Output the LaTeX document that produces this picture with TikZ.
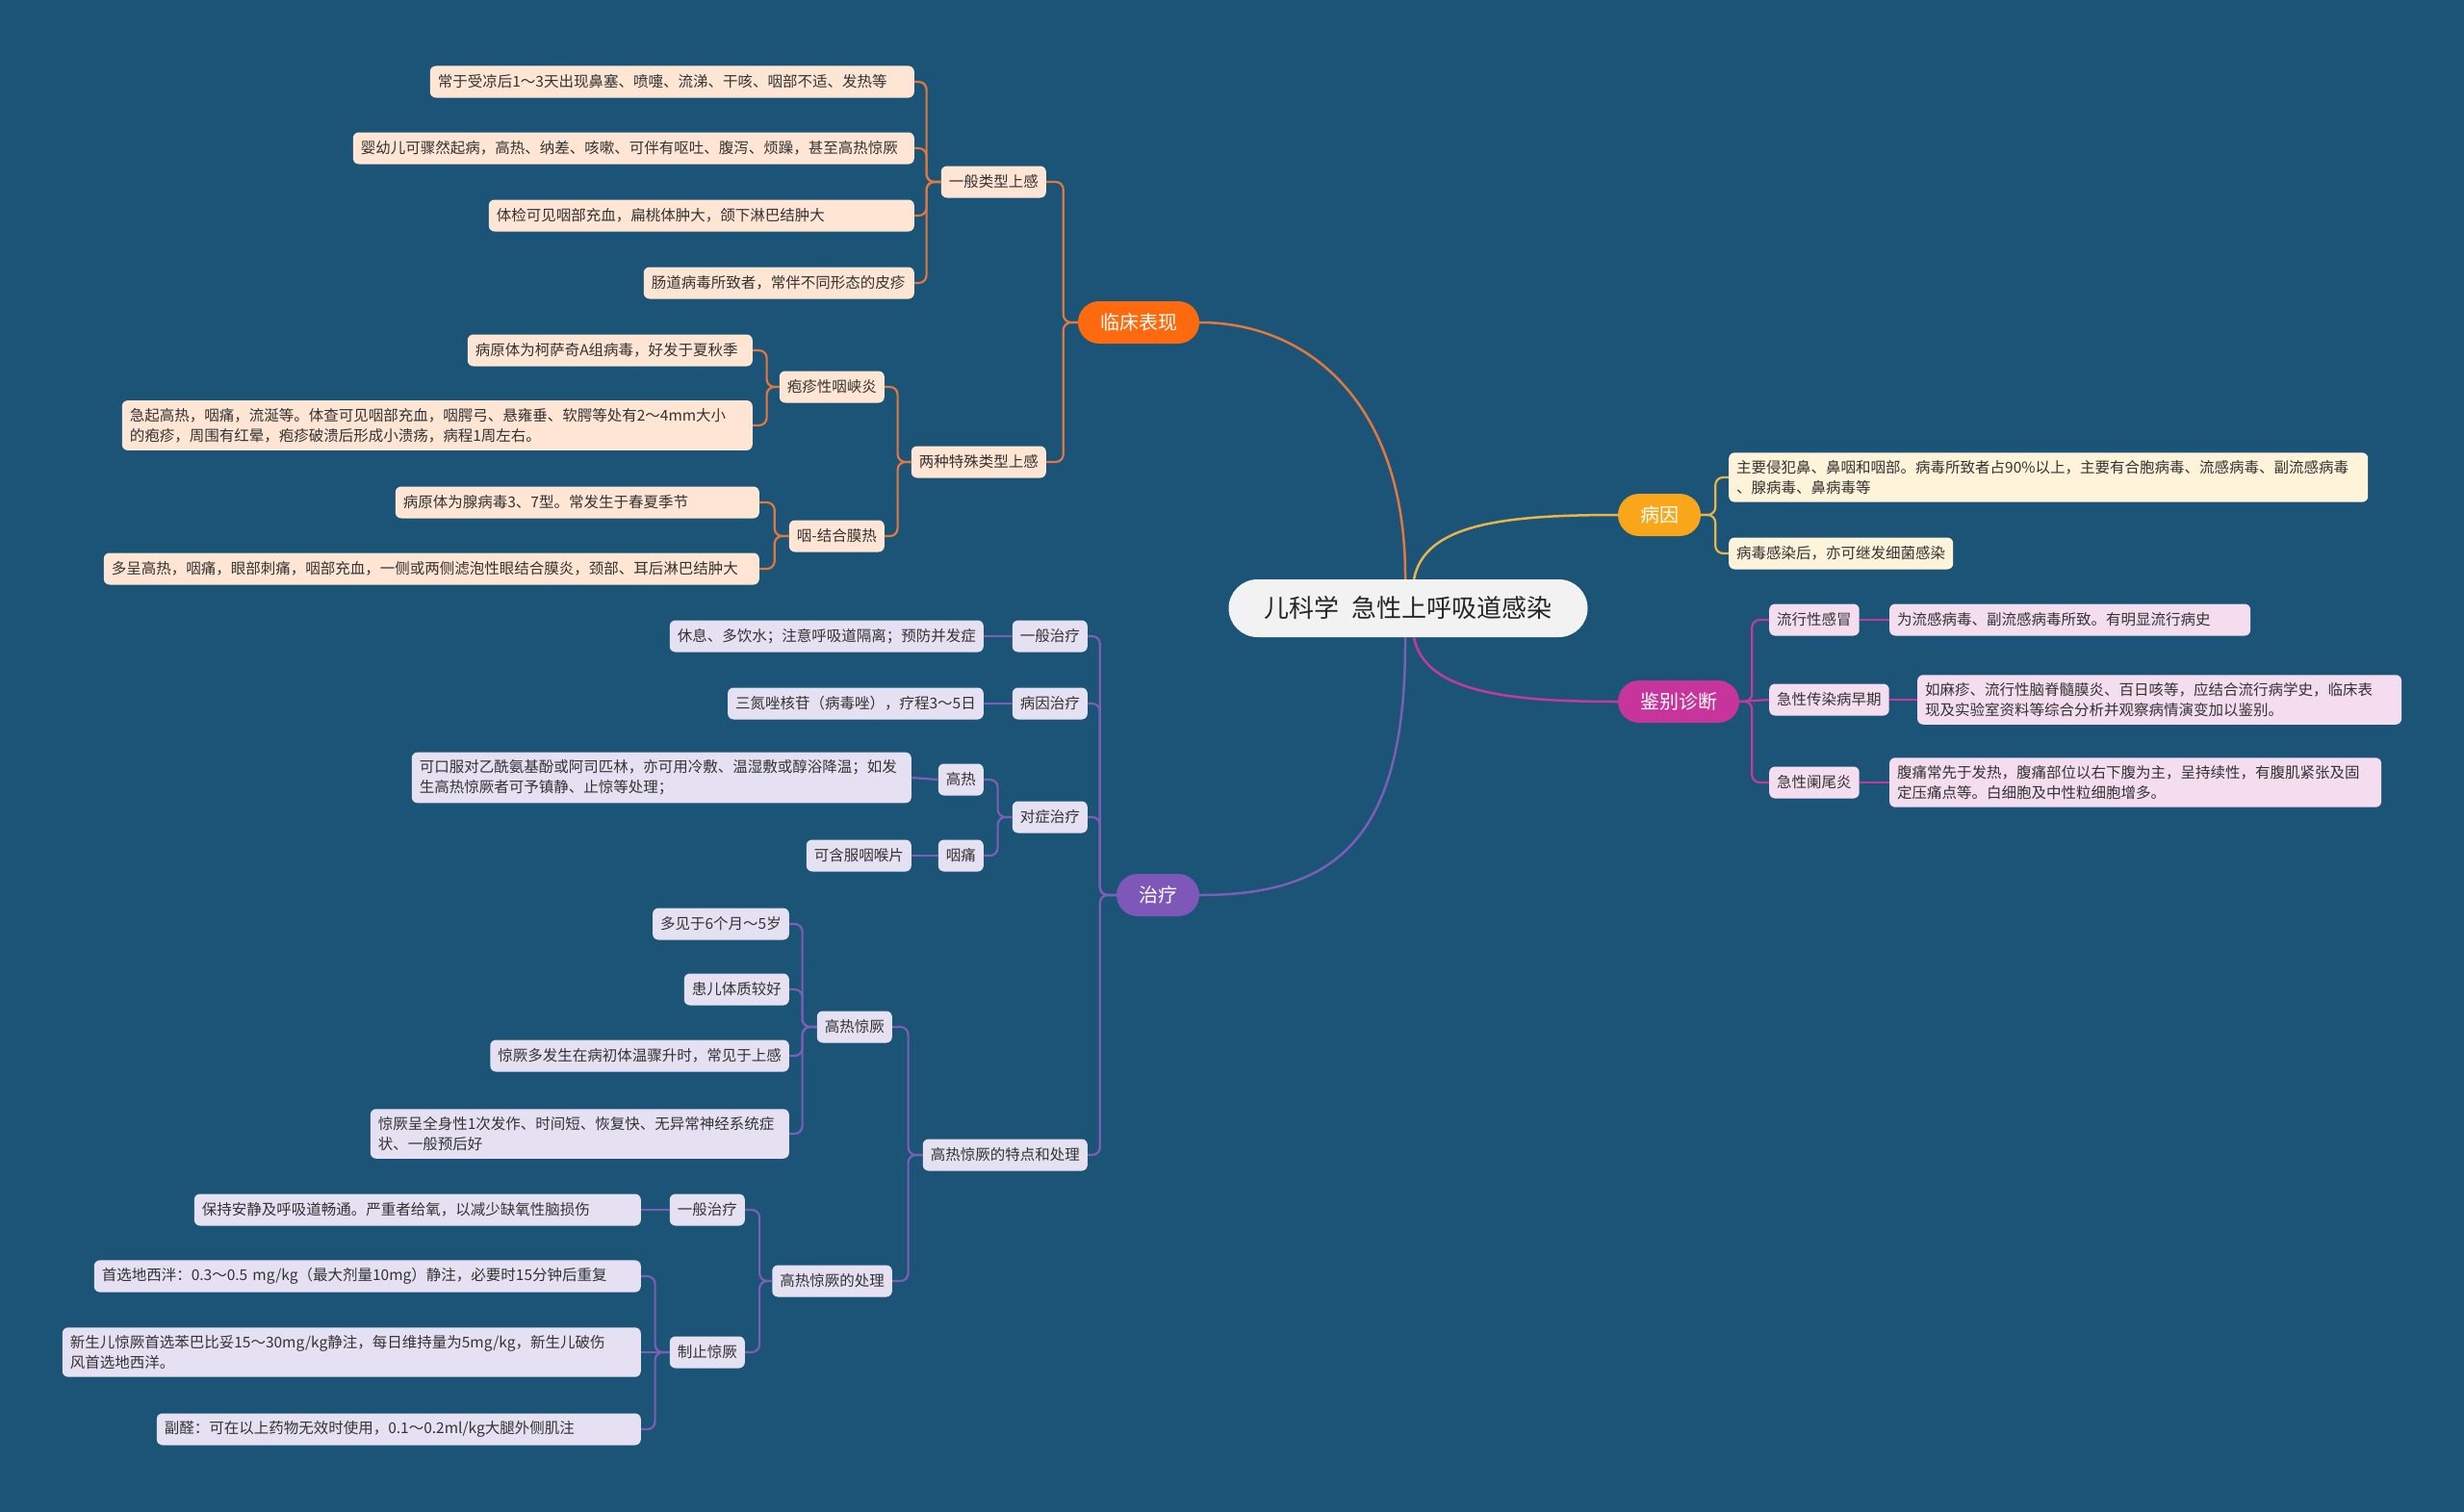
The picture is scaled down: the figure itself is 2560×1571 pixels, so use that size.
\documentclass[tikz,border=0pt]{standalone}
\usepackage{fontspec}
\setmainfont{Noto Sans CJK SC}
\usepackage{tikz}
\usetikzlibrary{positioning}

\definecolor{bgblue}{RGB}{27,84,118}
\definecolor{clinmain}{RGB}{255,106,14}
\definecolor{clinline}{RGB}{226,120,62}
\definecolor{clinleaf}{RGB}{255,229,211}
\definecolor{causemain}{RGB}{249,166,26}
\definecolor{causeline}{RGB}{233,180,74}
\definecolor{causeleaf}{RGB}{255,243,217}
\definecolor{diffmain}{RGB}{199,53,156}
\definecolor{diffline}{RGB}{196,58,155}
\definecolor{diffleaf}{RGB}{245,221,240}
\definecolor{treatmain}{RGB}{126,88,184}
\definecolor{treatline}{RGB}{124,94,182}
\definecolor{treatleaf}{RGB}{229,225,243}

\begin{document}
\begin{tikzpicture}[x=1pt,y=-1pt,
    rootbox/.style={fill=gray!10,text=black!85,minimum width=373pt,minimum height=60pt,rounded corners=30pt,font=\fontsize{26}{30}\selectfont},
    mainbox/.style={fill=#1,text=white,minimum height=44pt,inner xsep=23pt,rounded corners=22pt,font=\fontsize{20}{24}\selectfont},
    subbox/.style={fill=#1,text=black!80,minimum height=33pt,inner xsep=8pt,inner ysep=8pt,rounded corners=6pt,font=\fontsize{15.5}{21}\selectfont},
    mainline/.style={draw=#1,line width=2.5pt},
    conn/.style={draw=#1,line width=2.2pt,rounded corners=8pt}]
  \fill[bgblue] (0,0) rectangle (2560,1571);

  \node[rootbox] (root) at (1463,632) {儿科学\hspace{0.5em}急性上呼吸道感染};

  \node[mainbox=clinmain] (clin) at (1183,335) {临床表现};
  \node[mainbox=causemain] (cause) at (1724,535) {病因};
  \node[mainbox=diffmain] (diff) at (1744,729) {鉴别诊断};
  \node[mainbox=treatmain] (treat) at (1203,930) {治疗};

  \draw[mainline=clinline] ([xshift=-3pt]root.north) .. controls (1461,420) and (1360,335) .. (clin.east);
  \draw[mainline=causeline] ([xshift=6pt]root.north) .. controls (1480,545) and (1560,535) .. (cause.west);
  \draw[mainline=diffline] ([xshift=6pt]root.south) .. controls (1480,720) and (1570,729) .. (diff.west);
  \draw[mainline=treatline] ([xshift=-3pt]root.south) .. controls (1461,870) and (1390,930) .. (treat.east);

  \node[subbox=clinleaf,anchor=east] (gen) at (1087,189) {一般类型上感};
  \node[subbox=clinleaf,anchor=east,text width=487pt,align=left] (gen1) at (950,85) {常于受凉后1～3天出现鼻塞、喷嚏、流涕、干咳、咽部不适、发热等};
  \node[subbox=clinleaf,anchor=east,text width=567pt,align=left] (gen2) at (950,154) {婴幼儿可骤然起病，高热、纳差、咳嗽、可伴有呕吐、腹泻、烦躁，甚至高热惊厥};
  \node[subbox=clinleaf,anchor=east,text width=426pt,align=left] (gen3) at (950,224) {体检可见咽部充血，扁桃体肿大，颌下淋巴结肿大};
  \node[subbox=clinleaf,anchor=east,text width=265pt,align=left] (gen4) at (950,294) {肠道病毒所致者，常伴不同形态的皮疹};
  \node[subbox=clinleaf,anchor=east] (spec) at (1087,480) {两种特殊类型上感};
  \node[subbox=clinleaf,anchor=east] (herp) at (919,402) {疱疹性咽峡炎};
  \node[subbox=clinleaf,anchor=east,text width=280pt,align=left] (herp1) at (782,364) {病原体为柯萨奇A组病毒，好发于夏秋季};
  \node[subbox=clinleaf,anchor=east,text width=639pt,align=left] (herp2) at (782,442) {急起高热，咽痛，流涎等。体查可见咽部充血，咽腭弓、悬雍垂、软腭等处有2～4mm大小\\的疱疹，周围有红晕，疱疹破溃后形成小溃疡，病程1周左右。};
  \node[subbox=clinleaf,anchor=east] (pcf) at (919,557) {咽-结合膜热};
  \node[subbox=clinleaf,anchor=east,text width=362pt,align=left] (pcf1) at (789,522) {病原体为腺病毒3、7型。常发生于春夏季节};
  \node[subbox=clinleaf,anchor=east,text width=665pt,align=left] (pcf2) at (789,591) {多呈高热，咽痛，眼部刺痛，咽部充血，一侧或两侧滤泡性眼结合膜炎，颈部、耳后淋巴结肿大};

  \draw[conn=clinline] (clin.west) -- ++(-15,0) |- (gen.east);
  \draw[conn=clinline] (clin.west) -- ++(-15,0) |- (spec.east);
  \draw[conn=clinline] (gen.west) -- ++(-15,0) |- (gen1.east);
  \draw[conn=clinline] (gen.west) -- ++(-15,0) |- (gen2.east);
  \draw[conn=clinline] (gen.west) -- ++(-15,0) |- (gen3.east);
  \draw[conn=clinline] (gen.west) -- ++(-15,0) |- (gen4.east);
  \draw[conn=clinline] (spec.west) -- ++(-14,0) |- (herp.east);
  \draw[conn=clinline] (spec.west) -- ++(-14,0) |- (pcf.east);
  \draw[conn=clinline] (herp.west) -- ++(-13,0) |- (herp1.east);
  \draw[conn=clinline] (herp.west) -- ++(-13,0) |- (herp2.east);
  \draw[conn=clinline] (pcf.west) -- ++(-15,0) |- (pcf1.east);
  \draw[conn=clinline] (pcf.west) -- ++(-15,0) |- (pcf2.east);

  \node[subbox=causeleaf,anchor=west,text width=648pt,align=left] (cy1) at (1796,496) {主要侵犯鼻、鼻咽和咽部。病毒所致者占90\%以上，主要有合胞病毒、流感病毒、副流感病毒\\、腺病毒、鼻病毒等};
  \node[subbox=causeleaf,anchor=west] (cy2) at (1796,575) {病毒感染后，亦可继发细菌感染};
  \draw[conn=causeline] (cause.east) -- ++(15,0) |- (cy1.west);
  \draw[conn=causeline] (cause.east) -- ++(15,0) |- (cy2.west);

  \node[subbox=diffleaf,anchor=west] (dflu) at (1838,644) {流行性感冒};
  \node[subbox=diffleaf,anchor=west] (dinf) at (1838,727) {急性传染病早期};
  \node[subbox=diffleaf,anchor=west] (dapp) at (1838,813) {急性阑尾炎};
  \node[subbox=diffleaf,right=31pt of dflu,text width=359pt,align=left] (dflu1) {为流感病毒、副流感病毒所致。有明显流行病史};
  \node[subbox=diffleaf,right=29pt of dinf,text width=487pt,align=left] (dinf1) {如麻疹、流行性脑脊髓膜炎、百日咳等，应结合流行病学史，临床表\\现及实验室资料等综合分析并观察病情演变加以鉴别。};
  \node[subbox=diffleaf,right=31pt of dapp,text width=495pt,align=left] (dapp1) {腹痛常先于发热，腹痛部位以右下腹为主，呈持续性，有腹肌紧张及固\\定压痛点等。白细胞及中性粒细胞增多。};
  \draw[conn=diffline] (diff.east) -- ++(13,0) |- (dflu.west);
  \draw[conn=diffline] (diff.east) -- (dinf.west);
  \draw[conn=diffline] (diff.east) -- ++(13,0) |- (dapp.west);
  \draw[conn=diffline] (dflu.east) -- (dflu1.west);
  \draw[conn=diffline] (dinf.east) -- (dinf1.west);
  \draw[conn=diffline] (dapp.east) -- (dapp1.west);

  \node[subbox=treatleaf,anchor=east] (tgen) at (1130,661) {一般治疗};
  \node[subbox=treatleaf,anchor=east] (tgen1) at (1022,661) {休息、多饮水；注意呼吸道隔离；预防并发症};
  \node[subbox=treatleaf,anchor=east] (tcause) at (1130,731) {病因治疗};
  \node[subbox=treatleaf,anchor=east] (tcause1) at (1022,731) {三氮唑核苷（病毒唑），疗程3～5日};
  \node[subbox=treatleaf,anchor=east] (tsym) at (1130,849) {对症治疗};
  \node[subbox=treatleaf,anchor=east] (fever) at (1022,810) {高热};
  \node[subbox=treatleaf,anchor=east,text width=503pt,align=left] (fever1) at (947,808) {可口服对乙酰氨基酚或阿司匹林，亦可用冷敷、温湿敷或醇浴降温；如发\\生高热惊厥者可予镇静、止惊等处理；};
  \node[subbox=treatleaf,anchor=east] (throat) at (1022,889) {咽痛};
  \node[subbox=treatleaf,anchor=east] (throat1) at (947,889) {可含服咽喉片};
  \node[subbox=treatleaf,anchor=east] (conv) at (1130,1200) {高热惊厥的特点和处理};
  \node[subbox=treatleaf,anchor=east] (fc) at (927,1067) {高热惊厥};
  \node[subbox=treatleaf,anchor=east] (fc1) at (820,960) {多见于6个月～5岁};
  \node[subbox=treatleaf,anchor=east] (fc2) at (820,1028) {患儿体质较好};
  \node[subbox=treatleaf,anchor=east] (fc3) at (820,1097) {惊厥多发生在病初体温骤升时，常见于上感};
  \node[subbox=treatleaf,anchor=east,text width=419pt,align=left] (fc4) at (820,1178) {惊厥呈全身性1次发作、时间短、恢复快、无异常神经系统症\\状、一般预后好};
  \node[subbox=treatleaf,anchor=east] (fct) at (927,1331) {高热惊厥的处理};
  \node[subbox=treatleaf,anchor=east] (cgen) at (774,1257) {一般治疗};
  \node[subbox=treatleaf,anchor=east,text width=448pt,align=left] (cgen1) at (666,1257) {保持安静及呼吸道畅通。严重者给氧，以减少缺氧性脑损伤};
  \node[subbox=treatleaf,anchor=east] (stop) at (774,1405) {制止惊厥};
  \node[subbox=treatleaf,anchor=east,text width=552pt,align=left] (stop1) at (666,1326) {首选地西泮：0.3～0.5 mg/kg（最大剂量10mg）静注，必要时15分钟后重复};
  \node[subbox=treatleaf,anchor=east,text width=585pt,align=left] (stop2) at (666,1405) {新生儿惊厥首选苯巴比妥15～30mg/kg静注，每日维持量为5mg/kg，新生儿破伤\\风首选地西洋。};
  \node[subbox=treatleaf,anchor=east,text width=487pt,align=left] (stop3) at (666,1485) {副醛：可在以上药物无效时使用，0.1～0.2ml/kg大腿外侧肌注};

  \draw[conn=treatline] (treat.west) -- ++(-17,0) |- (tgen.east);
  \draw[conn=treatline] (treat.west) -- ++(-17,0) |- (tcause.east);
  \draw[conn=treatline] (treat.west) -- ++(-17,0) |- (tsym.east);
  \draw[conn=treatline] (treat.west) -- ++(-17,0) |- (conv.east);
  \draw[conn=treatline] (tgen.west) -- (tgen1.east);
  \draw[conn=treatline] (tcause.west) -- (tcause1.east);
  \draw[conn=treatline] (tsym.west) -- ++(-15,0) |- (fever.east);
  \draw[conn=treatline] (tsym.west) -- ++(-15,0) |- (throat.east);
  \draw[conn=treatline] (fever.west) -- (fever1.east);
  \draw[conn=treatline] (throat.west) -- (throat1.east);
  \draw[conn=treatline] (conv.west) -- ++(-15,0) |- (fc.east);
  \draw[conn=treatline] (conv.west) -- ++(-15,0) |- (fct.east);
  \draw[conn=treatline] (fc.west) -- ++(-15,0) |- (fc1.east);
  \draw[conn=treatline] (fc.west) -- ++(-15,0) |- (fc2.east);
  \draw[conn=treatline] (fc.west) -- ++(-15,0) |- (fc3.east);
  \draw[conn=treatline] (fc.west) -- ++(-15,0) |- (fc4.east);
  \draw[conn=treatline] (fct.west) -- ++(-13,0) |- (cgen.east);
  \draw[conn=treatline] (fct.west) -- ++(-13,0) |- (stop.east);
  \draw[conn=treatline] (cgen.west) -- (cgen1.east);
  \draw[conn=treatline] (stop.west) -- ++(-15,0) |- (stop1.east);
  \draw[conn=treatline] (stop.west) -- (stop2.east);
  \draw[conn=treatline] (stop.west) -- ++(-15,0) |- (stop3.east);
\end{tikzpicture}
\end{document}
